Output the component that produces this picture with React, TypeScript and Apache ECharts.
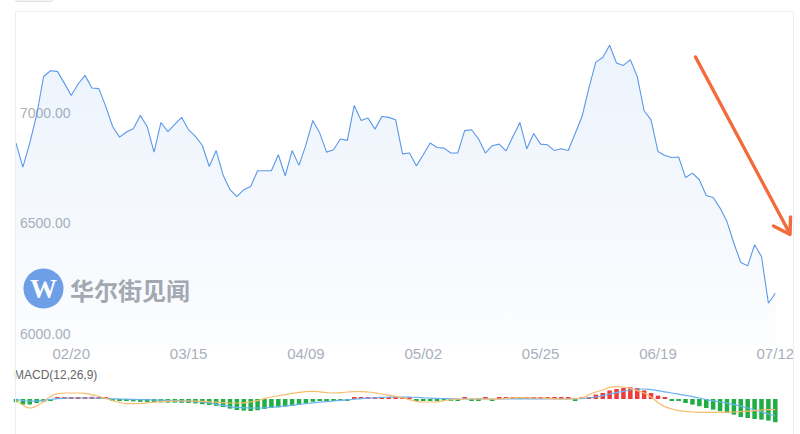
import React, { useEffect, useRef } from "react";
import * as echarts from "echarts";

const categories = [
  "02/08","02/09","02/12","02/13","02/14","02/15","02/16","02/19","02/20","02/21","02/22","02/23","02/26","02/27","02/28",
  "03/01","03/02","03/05","03/06","03/07","03/08","03/09","03/12","03/13","03/14","03/15","03/16","03/19","03/20","03/21","03/22","03/23","03/26","03/27","03/28","03/29","03/30",
  "04/02","04/03","04/04","04/05","04/06","04/09","04/10","04/11","04/12","04/13","04/16","04/17","04/18","04/19","04/20","04/23","04/24","04/25","04/26","04/27","04/30",
  "05/01","05/02","05/03","05/04","05/07","05/08","05/09","05/10","05/11","05/14","05/15","05/16","05/17","05/18","05/21","05/22","05/23","05/24","05/25","05/28","05/29","05/30","05/31",
  "06/01","06/04","06/05","06/06","06/07","06/08","06/11","06/12","06/13","06/14","06/15","06/18","06/19","06/20","06/21","06/22","06/25","06/26","06/27","06/28","06/29",
  "07/02","07/03","07/04","07/05","07/06","07/09","07/10","07/11","07/12","07/13","07/16","07/17"
];

const prices = [
  6863, 6754, 6864, 6991, 7164, 7190, 7187, 7134, 7078, 7130,
  7169, 7112, 7109, 7029, 6938, 6890, 6913, 6928, 6988, 6938,
  6822, 6956, 6915, 6947, 6979, 6923, 6893, 6852, 6757, 6829,
  6719, 6652, 6621, 6652, 6667, 6738, 6738, 6738, 6810, 6715,
  6829, 6762, 6855, 6965, 6908, 6822, 6833, 6881, 6875, 7033,
  6965, 6976, 6926, 6983, 6979, 6968, 6814, 6818, 6760, 6810,
  6863, 6843, 6840, 6818, 6818, 6919, 6923, 6882, 6818, 6851,
  6858, 6828, 6893, 6956, 6837, 6906, 6858, 6855, 6829, 6837,
  6829, 6905, 6983, 7112, 7229, 7250, 7305, 7225, 7214, 7240,
  7164, 7009, 6968, 6825, 6807, 6798, 6800, 6707, 6727, 6697,
  6626, 6617, 6569, 6508, 6410, 6323, 6308, 6403, 6350, 6139,
  6184
];

const macdHist = [
  -16, -28, -28, -20, -14, -5, 4, 4, 5, 5,
  9, 11, 10, 6, -5, -8, -8, -12, -14, -15,
  -16, -17, -18, -18, -19, -20, -22, -26, -30, -34,
  -40, -48, -55, -58, -60, -56, -50, -45, -42, -38,
  -34, -30, -22, -14, -6, -5, -5, -4, -4, 3,
  4, 5, 5, 6, 10, 12, 6, 5, -4, -5,
  -5, -5, -4, -4, -2, 1, -1, -1, 1, -1,
  1, 1, 2, 2, 2, 2, 2, 2, 2, 2,
  1, -1, 2, 10, 22, 30, 43, 50, 55, 58,
  55, 43, 30, 17, 8, -3, -5, -20, -28, -36,
  -45, -53, -61, -70, -78, -90, -95, -100, -103, -108,
  -116
];

const difLine = [
  0, -8, -11, -10, -6, -2, 2, 4, 5, 5,
  5, 5, 4, 3, 1, 0, -1, -2, -3, -4,
  -5, -6, -7, -8, -9, -11, -13, -15, -20, -26,
  -32, -38, -42, -44, -45, -45, -44, -41, -38, -35,
  -31, -27, -23, -19, -16, -13, -10, -7, -4, -1,
  2, 4, 6, 8, 9, 10, 10, 9, 8, 6,
  4, 3, 2, 1, 0, 0, 0, 1, 0, 0,
  0, 1, 1, 1, 1, 1, 0, 0, 0, 0,
  0, 1, 2, 5, 10, 17, 25, 32, 38, 45,
  50, 50, 47, 42, 36, 30, 24, 18, 12, 5,
  -3, -9, -15, -21, -28, -36, -45, -54, -65, -75,
  -85
];

const deaLine = [
  -7, -30, -45, -35, -12, 12, 27, 30, 30, 30,
  28, 22, 13, 3, -8, -17, -23, -23, -22, -19,
  -16, -13, -11, -10, -10, -10, -11, -12, -14, -16,
  -18, -20, -20, -19, -15, -8, 2, 10, 16, 22,
  28, 33, 37, 38, 36, 32, 30, 32, 35, 37,
  37, 35, 31, 25, 19, 13, 6, -3, -12, -15,
  -15, -14, -8, -4, -1, 0, 0, 1, 0, -1,
  0, 3, 6, 7, 6, 5, 5, 3, 1, 0,
  0, 2, 6, 22, 35, 45, 58, 62, 60, 53,
  42, 30, 10, -17, -38, -50, -58, -62, -65, -67,
  -67, -67, -67, -66, -65, -63, -61, -58, -55, -53,
  -53
];

const priceTickLabels = [6000, 6500, 7000];
const labelStart = 8;
const labelStep = 17;

const FONT = "'Liberation Sans', Arial, Helvetica, sans-serif";
const RED = "#ee3b3b";
const GREEN = "#1fae45";

export default function App() {
  const ref = useRef<HTMLDivElement>(null);

  useEffect(() => {
    if (!ref.current) return;
    const chart = echarts.init(ref.current, undefined, { renderer: "svg" });
    const option: any = {
      animation: false,
      backgroundColor: "#ffffff",
      grid: [
        { left: 16, right: 4, top: 11, height: 334 },
        { left: 16, right: 4, top: 379, height: 46 },
      ],
      xAxis: [
        {
          type: "category",
          gridIndex: 0,
          data: categories,
          boundaryGap: false,
          axisLine: { show: false },
          axisTick: { show: false },
          splitLine: { show: false },
          axisLabel: {
            interval: (index: number) => index >= labelStart && (index - labelStart) % labelStep === 0,
            color: "#a9afbb",
            fontSize: 15,
            fontFamily: FONT,
            margin: 1,
          },
        },
        {
          type: "category",
          gridIndex: 1,
          data: categories,
          boundaryGap: false,
          axisLine: { show: false },
          axisTick: { show: false },
          axisLabel: { show: false },
          splitLine: { show: false },
        },
      ],
      yAxis: [
        {
          type: "value",
          gridIndex: 0,
          min: 5950,
          max: 7460,
          interval: 50,
          axisLine: { show: false },
          axisTick: { show: false },
          splitLine: { show: false },
          axisLabel: {
            inside: true,
            margin: 4,
            color: "#abb0ba",
            fontSize: 14,
            fontFamily: FONT,
            formatter: (v: number) =>
              priceTickLabels.includes(Math.round(v)) ? Math.round(v).toFixed(2) : "",
          },
        },
        {
          type: "value",
          gridIndex: 1,
          min: -130,
          max: 100,
          axisLine: { show: false },
          axisTick: { show: false },
          splitLine: { show: false },
          axisLabel: { show: false },
        },
      ],
      series: [
        {
          type: "line",
          xAxisIndex: 0,
          yAxisIndex: 0,
          data: prices,
          symbol: "none",
          lineStyle: { color: "#5b98e6", width: 1.1 },
          itemStyle: { color: "#5b98e6" },
          areaStyle: {
            origin: "start",
            color: new echarts.graphic.LinearGradient(0, 0, 0, 1, [
              { offset: 0, color: "rgba(86,150,230,0.16)" },
              { offset: 1, color: "rgba(86,150,230,0.03)" },
            ]),
          },
          z: 3,
        },
        {
          type: "bar",
          xAxisIndex: 1,
          yAxisIndex: 1,
          data: macdHist,
          barWidth: 4.5,
          barMinHeight: 2,
          clip: false,
          itemStyle: {
            color: (p: any) => (p.value >= 0 ? RED : GREEN),
          },
          z: 2,
        },
        {
          type: "line",
          xAxisIndex: 1,
          yAxisIndex: 1,
          data: difLine,
          symbol: "none",
          smooth: true,
          lineStyle: { color: "#6ab4f0", width: 1.2 },
          z: 3,
        },
        {
          type: "line",
          xAxisIndex: 1,
          yAxisIndex: 1,
          data: deaLine,
          symbol: "none",
          smooth: true,
          lineStyle: { color: "#f7bd6e", width: 1.2 },
          z: 3,
        },
      ],
      graphic: [
        {
          type: "rect",
          silent: true,
          z: 50,
          shape: { x: 794, y: 0, width: 6, height: 434 },
          style: { fill: "#ffffff" },
        },
        {
          type: "rect",
          silent: true,
          z: 60,
          shape: { x: 15, y: -6, width: 38, height: 7.5, r: 3 },
          style: { fill: "#f2f3f5", stroke: "#dcdfe4", lineWidth: 1 },
        },
        {
          type: "line",
          silent: true,
          z: 60,
          shape: { x1: 15.5, y1: 11.5, x2: 793.5, y2: 11.5 },
          style: { stroke: "#eceef2", lineWidth: 1 },
        },
        {
          type: "line",
          silent: true,
          z: 60,
          shape: { x1: 15.5, y1: 11.5, x2: 15.5, y2: 434 },
          style: { stroke: "#eceef2", lineWidth: 1 },
        },
        {
          type: "line",
          silent: true,
          z: 60,
          shape: { x1: 793.5, y1: 11.5, x2: 793.5, y2: 434 },
          style: { stroke: "#eceef2", lineWidth: 1 },
        },
        {
          type: "circle",
          silent: true,
          z: 1,
          shape: { cx: 43.5, cy: 288.5, r: 20 },
          style: { fill: "#6e9fe6" },
        },
        {
          type: "text",
          silent: true,
          z: 1,
          x: 43.5,
          y: 289,
          style: {
            text: "W",
            fill: "#ffffff",
            fontSize: 27,
            fontWeight: "bold",
            fontFamily: "'Liberation Serif', 'DejaVu Serif', serif",
            align: "center",
            verticalAlign: "middle",
            textAlign: "center",
            textVerticalAlign: "middle",
          },
        },
        {
          type: "text",
          silent: true,
          z: 1,
          x: 70,
          y: 289,
          style: {
            text: "华尔街见闻",
            fill: "#a5a9af",
            fontSize: 24,
            fontWeight: "bold",
            fontFamily: "'Noto Sans CJK SC', sans-serif",
            align: "left",
            verticalAlign: "middle",
            textAlign: "left",
            textVerticalAlign: "middle",
          },
        },
        {
          type: "text",
          silent: true,
          z: 10,
          x: 14,
          y: 375,
          style: {
            text: "MACD(12,26,9)",
            fill: "#666666",
            fontSize: 12,
            fontFamily: FONT,
            align: "left",
            verticalAlign: "middle",
            textAlign: "left",
            textVerticalAlign: "middle",
          },
        },
        {
          type: "polyline",
          silent: true,
          z: 40,
          shape: { points: [[695.5, 57], [789.5, 233]] },
          style: { stroke: "#f36a3b", lineWidth: 3.4, lineCap: "round", fill: "none" },
        },
        {
          type: "polyline",
          silent: true,
          z: 40,
          shape: { points: [[773.5, 226], [790, 234.5], [790.5, 217]] },
          style: { stroke: "#f36a3b", lineWidth: 3.4, lineCap: "round", lineJoin: "round", fill: "none" },
        },
      ],
    };
    chart.setOption(option);
    return () => {
      chart.dispose();
    };
  }, []);

  return (
    <div
      ref={ref}
      style={{ position: "fixed", left: 0, top: 0, width: 800, height: 434, background: "#fff" }}
    />
  );
}
